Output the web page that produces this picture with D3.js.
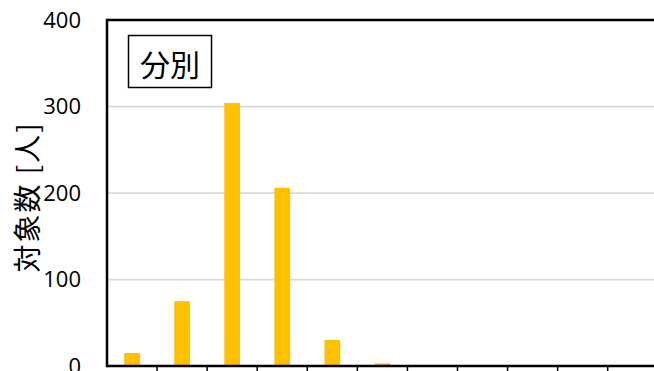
<!DOCTYPE html>
<html>
<head>
<meta charset="utf-8">
<script src="https://cdn.jsdelivr.net/npm/d3@7"></script>
<style>
  html, body { margin: 0; padding: 0; background: #fff; }
  svg { display: block; }
</style>
</head>
<body>
<svg id="chart" width="654" height="371"></svg>
<script>
// Counts per class
const categories = ["1", "2", "3", "4", "5", "6", "7", "8", "9", "10", "11"];
const counts = [15, 75, 304, 206, 30, 3, 0, 0, 0, 0, 0];
const yTicks = [0, 100, 200, 300, 400];
const gridTicks = [100, 200, 300];
const yTitle = "対象数 [人]";
const panelLabel = "分別";

const svg = d3.select("#chart");
const plotLeft = 107, plotTop = 20, plotBottom = 366;
const step = 50.07;
const plotRight = plotLeft + step * categories.length;

const x = d3.scaleBand()
  .domain(categories)
  .range([plotLeft, plotRight])
  .paddingInner(0.686)
  .paddingOuter(0.343);

const xEdges = d3.scaleBand().domain(categories).range([plotLeft, plotRight]).padding(0);

const y = d3.scaleLinear().domain([0, 400]).range([plotBottom, plotTop]);

// gridlines
svg.append("g")
  .selectAll("line")
  .data(gridTicks)
  .join("line")
  .attr("x1", plotLeft).attr("x2", plotRight)
  .attr("y1", d => y(d)).attr("y2", d => y(d))
  .attr("stroke", "#d9d9d9")
  .attr("stroke-width", 1.75);

// bars
svg.append("g")
  .selectAll("rect")
  .data(categories.map((c, i) => ({ c, v: counts[i] })))
  .join("rect")
  .attr("x", d => x(d.c))
  .attr("width", x.bandwidth())
  .attr("y", d => y(d.v))
  .attr("height", d => y(0) - y(d.v))
  .attr("fill", "#FFC000");

// frame: top, left and right borders
svg.append("line")
  .attr("x1", plotLeft).attr("x2", plotRight + 2)
  .attr("y1", plotTop).attr("y2", plotTop)
  .attr("stroke", "#000").attr("stroke-width", 2.5);
svg.append("line")
  .attr("x1", plotLeft).attr("x2", plotLeft)
  .attr("y1", plotTop - 1.25).attr("y2", plotBottom + 1.25)
  .attr("stroke", "#000").attr("stroke-width", 2.5);
svg.append("line")
  .attr("x1", plotRight).attr("x2", plotRight)
  .attr("y1", plotTop).attr("y2", plotBottom)
  .attr("stroke", "#000").attr("stroke-width", 2.5);

// x axis with category boundary ticks
const xAxis = svg.append("g").attr("transform", `translate(0,${plotBottom})`);
xAxis.append("line")
  .attr("x1", plotLeft).attr("x2", plotRight)
  .attr("y1", 0).attr("y2", 0)
  .attr("stroke", "#000").attr("stroke-width", 2.5);
xAxis.selectAll("line.tick")
  .data(categories.slice(1))
  .join("line")
  .attr("class", "tick")
  .attr("x1", d => xEdges(d)).attr("x2", d => xEdges(d))
  .attr("y1", 0).attr("y2", 8)
  .attr("stroke", "#000").attr("stroke-width", 1.5);

// y tick labels
const yAxis = d3.axisLeft(y).tickValues(yTicks).tickSize(0).tickPadding(26);
const gy = svg.append("g").attr("transform", `translate(${plotLeft},0)`).call(yAxis);
gy.select(".domain").remove();
gy.selectAll("text")
  .attr("font-family", "'Open Sans', 'Noto Sans', sans-serif")
  .attr("font-size", 22)
  .attr("fill", "#000");

// y axis title
svg.append("text")
  .attr("transform", "translate(25.5,197) rotate(-90)")
  .attr("text-anchor", "middle")
  .attr("dominant-baseline", "central")
  .attr("font-family", "'Noto Sans CJK JP', sans-serif")
  .attr("font-size", 28)
  .attr("letter-spacing", 2)
  .attr("fill", "#000")
  .text(yTitle);

// panel label box
const box = svg.append("g");
box.append("rect")
  .attr("x", 128.5).attr("y", 35.5)
  .attr("width", 83).attr("height", 52)
  .attr("fill", "#fff")
  .attr("stroke", "#000").attr("stroke-width", 1.5);
box.append("text")
  .attr("x", 170).attr("y", 63)
  .attr("text-anchor", "middle")
  .attr("dominant-baseline", "central")
  .attr("font-family", "'Noto Sans CJK JP', sans-serif")
  .attr("font-size", 30)
  .attr("fill", "#000")
  .text(panelLabel);
</script>
</body>
</html>
